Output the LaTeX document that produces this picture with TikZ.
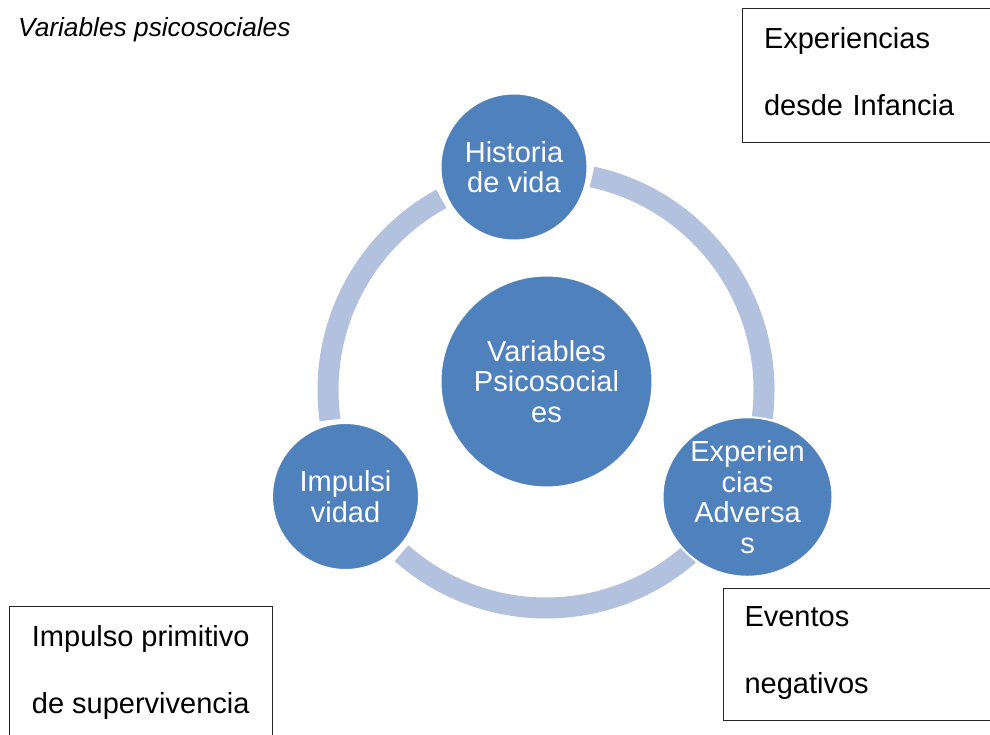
\documentclass[tikz,border=0pt]{standalone}
\usepackage{fontspec}
\setmainfont{Liberation Sans}
\usepackage{tikz}
\usetikzlibrary{
  positioning,
  shapes.geometric
}
\definecolor{CycleBlue}{RGB}{79,129,189}
\definecolor{RingBlue}{RGB}{177,193,222}
\tikzset{
  cyclenode/.style={circle,draw=white,line width=2pt,fill=CycleBlue,text=white,minimum size=147pt,inner sep=0pt,align=center,font=\fontsize{29}{30.5}\selectfont},
  centernode/.style={cyclenode,minimum size=212pt},
  ringarc/.style={draw=RingBlue,line width=21pt},
  notebox/.style={draw=black!85,line width=1pt,rectangle,anchor=north west,align=left,inner xsep=21.5pt,inner ysep=0pt,font=\fontsize{29}{67}\selectfont}
}

\begin{document}
\begin{tikzpicture}[x=1pt,y=1pt]
\useasboundingbox (0,0) rectangle (990,-735);
\node[anchor=base west,inner sep=0pt,font=\itshape\fontsize{26.3}{30}\selectfont] (title) at (18,-37) {Variables psicosociales};

\coordinate (ringc) at (546,-390);
\draw[ringarc] ([shift={(77.8:218)}]ringc) arc[start angle=77.8, end angle=-7.8, radius=218];
\draw[ringarc] ([shift={(-49:218)}]ringc) arc[start angle=-49, end angle=-131.5, radius=218];
\draw[ringarc] ([shift={(-172.1:218)}]ringc) arc[start angle=-172.1, end angle=-241.3, radius=218];

\node[centernode] (psico) at (546.5,-381.5) {Variables\\Psicosocial\\es};
\node[cyclenode] (historia) at (514,-167) {Historia\\de vida};
\node[cyclenode] (impulsi) at (345.5,-496.5) {Impulsi\\vidad};
\node[cyclenode,ellipse,minimum width=170pt,minimum height=147pt] (adversas) at (747.5,-497) {Experien\\cias\\Adversa\\s};

\node[notebox,text width=250pt,minimum height=134pt] (infancia) at (742,-8) {Experiencias\\desde Infancia\rule[-9pt]{0pt}{9pt}};
\node[notebox,text width=250pt,minimum height=132pt] (eventos) at (722.5,-588) {Eventos\\negativos\rule[-9.8pt]{0pt}{9.8pt}};
\node[notebox,inner xsep=20pt,minimum width=263.5pt,minimum height=131pt] (impulso) at (8.5,-606) {Impulso primitivo\\de supervivencia};
\end{tikzpicture}
\end{document}
